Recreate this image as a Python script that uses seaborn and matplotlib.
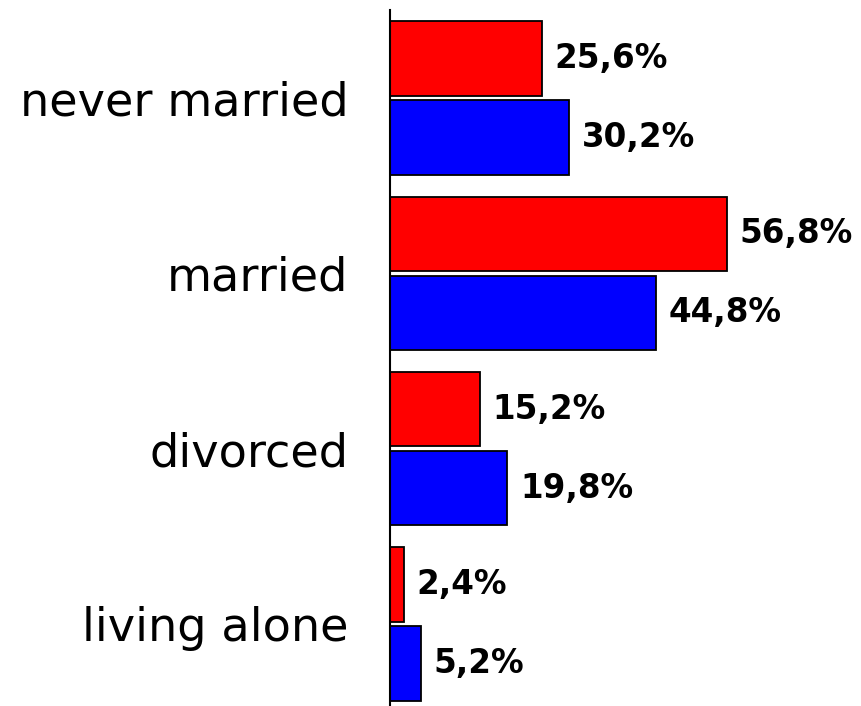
import matplotlib
matplotlib.use("Agg")
import matplotlib.pyplot as plt
import seaborn as sns
import pandas as pd

categories = ["never married", "married", "divorced", "living alone"]
series_names = ["red", "blue"]
red_values = [25.6, 56.8, 15.2, 2.4]
blue_values = [30.2, 44.8, 19.8, 5.2]

df = pd.DataFrame({
    "status": categories * 2,
    "group": [series_names[0]] * 4 + [series_names[1]] * 4,
    "share": red_values + blue_values,
})

sns.set_theme(style="white")
plt.rcParams["font.family"] = ["DejaVu Sans"]

W, H = 861, 706
fig = plt.figure(figsize=(W / 100, H / 100), dpi=100)
ax = fig.add_axes([390 / W, 0, (W - 390) / W, (H - 10) / H])

sns.barplot(
    data=df, y="status", x="share", hue="group", order=categories,
    hue_order=series_names, palette={"red": "#ff0000", "blue": "#0000ff"},
    orient="h", width=0.9, gap=0.055, edgecolor="black", linewidth=1.3,
    saturation=1, legend=False, ax=ax,
)

for container in ax.containers:
    ax.bar_label(
        container,
        labels=[f"{v:.1f}%".replace(".", ",") for v in container.datavalues],
        padding=9, fontsize=23.5, fontweight="bold", color="black",
    )

ax.set_xlim(0, (W - 390) / 5.93)
ax.set_ylim(3.469, -0.503)
ax.set_xlabel("")
ax.set_ylabel("")
ax.set_xticks([])
ax.tick_params(axis="y", length=0, pad=30, labelsize=33.3, labelcolor="black")
for side in ["top", "right", "bottom"]:
    ax.spines[side].set_visible(False)
ax.spines["left"].set_color("black")
ax.spines["left"].set_linewidth(1.5)

fig.savefig("out.png", dpi=100)
